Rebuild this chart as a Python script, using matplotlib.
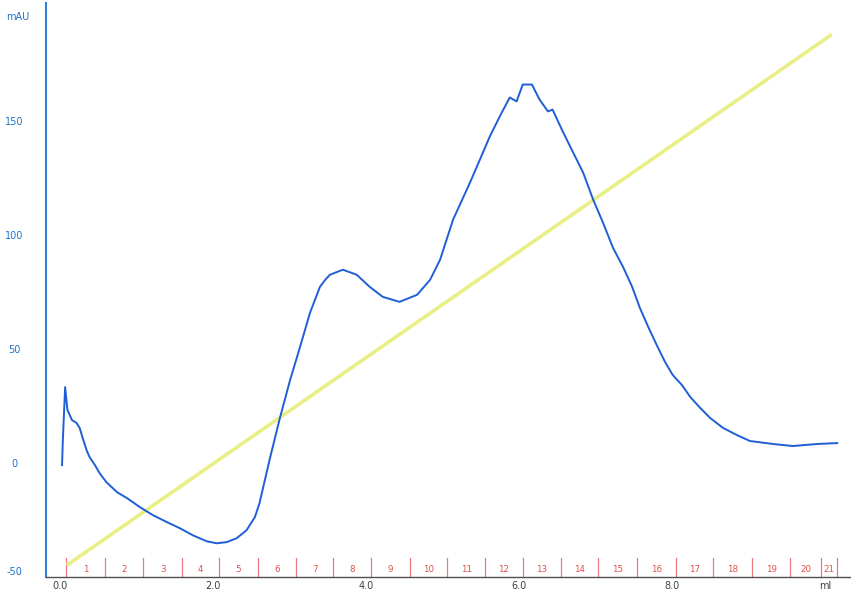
import matplotlib
matplotlib.use("Agg")
import matplotlib.pyplot as plt

# UV absorbance trace (mAU) versus elution volume (ml)
uv_volume = [0.03, 0.04, 0.07, 0.10, 0.16, 0.22, 0.26, 0.30, 0.35, 0.39, 0.46, 0.52,
             0.61, 0.75, 0.88, 1.05, 1.22, 1.40, 1.57, 1.74, 1.92, 2.05, 2.18, 2.31,
             2.44, 2.55, 2.61, 2.75, 2.88, 3.01, 3.14, 3.27, 3.40, 3.47, 3.53, 3.70,
             3.88, 4.05, 4.22, 4.44, 4.67, 4.84, 4.97, 5.14, 5.36, 5.49, 5.62, 5.75,
             5.88, 5.97, 6.05, 6.17, 6.27, 6.38, 6.44, 6.58, 6.71, 6.84, 6.97, 7.10,
             7.23, 7.36, 7.48, 7.58, 7.69, 7.80, 7.91, 8.01, 8.13, 8.24, 8.37, 8.50,
             8.67, 8.85, 9.02, 9.32, 9.58, 9.90, 10.16]
uv_mau = [-0.9, 10.1, 33.4, 23.3, 18.9, 17.6, 15.4, 11.0, 5.7, 2.6, -0.9, -4.4,
          -8.4, -12.8, -15.4, -19.4, -22.9, -25.9, -28.6, -31.7, -34.3, -35.2, -34.7, -33.0,
          -29.5, -23.7, -17.6, 2.6, 20.2, 36.5, 51.0, 66.0, 77.4, 80.5, 82.7, 84.9,
          82.7, 77.4, 73.0, 70.8, 73.9, 80.5, 89.3, 106.9, 123.1, 133.2, 143.4, 152.2,
          160.5, 158.8, 166.2, 166.2, 159.6, 154.4, 155.2, 145.1, 136.3, 127.5, 115.7, 105.5,
          94.5, 86.2, 77.4, 68.2, 59.8, 51.9, 44.4, 38.7, 34.3, 29.0, 24.2, 19.8,
          15.4, 12.3, 9.7, 8.4, 7.5, 8.4, 8.8]

# Gradient line (plotted on the mAU scale)
gradient_volume = [0.09, 10.09]
gradient_level = [-44.9, 188.2]

# Fraction collector marks
fraction_edges = [0.08, 0.59, 1.09, 1.60, 2.08, 2.59, 3.09, 3.57, 4.07, 4.58, 5.06,
                  5.56, 6.05, 6.55, 7.03, 7.54, 8.05, 8.54, 9.05, 9.54, 9.95, 10.16]
fraction_labels = [str(i) for i in range(1, 22)]

x_ticks = [0, 2, 4, 6, 8, 10]
x_tick_labels = ["0.0", "2.0", "4.0", "6.0", "8.0", "ml"]
y_ticks = [-50, 0, 50, 100, 150]
y_tick_labels = ["-50", "0", "50", "100", "150"]

fig = plt.figure(figsize=(8.51, 5.97), dpi=100)
ax = fig.add_axes([46 / 851, 20 / 597, 805 / 851, 574 / 597])
ax.set_xlim(-0.18, 10.34)
ax.set_ylim(-50, 202)

ax.plot(gradient_volume, gradient_level, color="#e9ef86", lw=2.6, solid_capstyle="butt", zorder=2)
ax.plot(uv_volume, uv_mau, color="#1f5fd6", lw=1.4, zorder=3, solid_joinstyle="round")

# fraction ticks and numbers
for e in fraction_edges:
    ax.plot([e, e], [-50, -41.6], color="#ec7a78", lw=0.9, zorder=1, clip_on=False)
for i, lab in enumerate(fraction_labels):
    xc = (fraction_edges[i] + fraction_edges[i + 1]) / 2
    ax.text(xc, -46.8, lab, color="#e0504c", fontsize=6.3, ha="center", va="center")

for s in ["top", "right"]:
    ax.spines[s].set_visible(False)
ax.spines["left"].set_color("#2f80d8")
ax.spines["left"].set_linewidth(1.5)
ax.spines["bottom"].set_color("#505050")
ax.spines["bottom"].set_linewidth(1.0)

ax.set_xticks(x_ticks)
ax.set_xticklabels(x_tick_labels)
ax.set_yticks(y_ticks)
ax.set_yticklabels(y_tick_labels)
ax.tick_params(axis="x", length=0, pad=3, labelsize=7, labelcolor="#404040")
ax.tick_params(axis="y", length=0, pad=23, labelsize=7, labelcolor="#2070c8")
for t in ax.get_yticklabels():
    t.set_horizontalalignment("center")
ax.get_yticklabels()[0].set_verticalalignment("bottom")

ax.text(-0.55, 196, "mAU", color="#2070c8", fontsize=7, ha="center", va="center",
        clip_on=False)

fig.savefig("out.png", dpi=100, facecolor="white")
